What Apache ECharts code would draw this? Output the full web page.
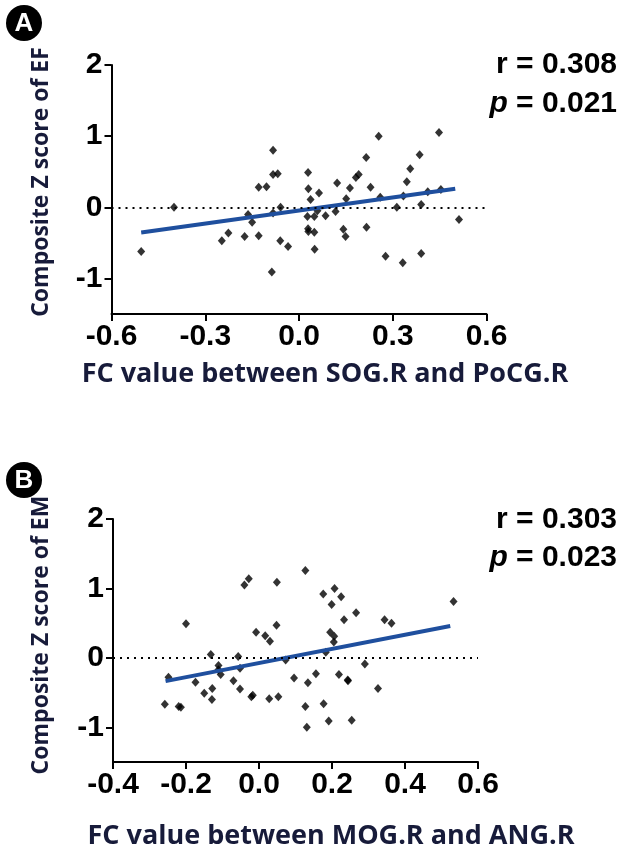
<!DOCTYPE html>
<html>
<head>
<meta charset="utf-8">
<script src="https://cdn.jsdelivr.net/npm/echarts@6/dist/echarts.min.js"></script>
<style>html,body{margin:0;padding:0;background:#fff;}#c{width:624px;height:863px;}</style>
</head>
<body>
<div id="c"></div>
<script>
// Panel A data: FC value (SOG.R–PoCG.R) vs composite Z score of EF
var pointsA = [
  [-0.505,-0.62],[-0.40,0.0],[-0.247,-0.47],[-0.226,-0.36],[-0.174,-0.41],[-0.163,-0.10],
  [-0.150,-0.21],[-0.129,0.28],[-0.104,0.29],[-0.129,-0.40],[-0.083,0.80],[-0.083,0.46],
  [-0.068,0.47],[-0.083,-0.08],[-0.059,0.0],[-0.060,-0.47],[-0.035,-0.55],[-0.087,-0.91],
  [0.029,0.49],[0.030,0.26],[0.037,0.11],[0.064,0.20],[0.027,-0.13],[0.049,-0.13],
  [0.059,-0.05],[0.029,-0.30],[0.030,-0.34],[0.049,-0.35],[0.050,-0.59],[0.085,-0.12],
  [0.117,-0.06],[0.122,0.34],[0.151,0.12],[0.163,0.27],[0.142,-0.31],[0.149,-0.41],
  [0.182,0.42],[0.191,0.46],[0.215,0.70],[0.229,0.28],[0.255,1.00],[0.260,0.14],
  [0.216,-0.28],[0.277,-0.69],[0.313,0.0],[0.332,-0.78],[0.334,0.16],[0.345,0.36],
  [0.356,0.54],[0.386,0.74],[0.391,0.04],[0.391,-0.65],[0.412,0.22],[0.448,1.05],
  [0.454,0.25],[0.512,-0.17]
];
var fitA = [[-0.505,-0.353],[0.50,0.26]];
var statsA = {r: '0.308', p: '0.021'};
var xTicksA = [-0.6,-0.3,0.0,0.3,0.6];

// Panel B data: FC value (MOG.R–ANG.R) vs composite Z score of EM
var pointsB = [
  [-0.258,-0.67],[-0.248,-0.28],[-0.220,-0.70],[-0.214,-0.71],[-0.200,0.49],[-0.174,-0.35],
  [-0.150,-0.51],[-0.128,-0.44],[-0.129,-0.60],[-0.132,0.05],[-0.111,-0.11],[-0.111,-0.17],
  [-0.105,-0.24],[-0.070,-0.33],[-0.057,0.02],[-0.052,-0.15],[-0.052,-0.45],[-0.021,-0.56],
  [-0.017,-0.54],[-0.040,1.05],[-0.028,1.14],[-0.008,0.37],[0.017,0.32],[0.030,0.24],
  [0.048,0.47],[0.049,1.09],[0.028,-0.59],[0.053,-0.56],[0.073,-0.03],[0.096,-0.29],
  [0.127,1.26],[0.127,-0.70],[0.131,-1.00],[0.134,-0.36],[0.156,-0.23],[0.176,0.92],
  [0.177,-0.66],[0.183,0.08],[0.191,-0.91],[0.195,0.37],[0.199,0.77],[0.205,0.23],
  [0.206,0.31],[0.207,1.00],[0.225,0.88],[0.233,0.55],[0.219,-0.24],[0.243,-0.32],
  [0.244,-0.33],[0.254,-0.90],[0.266,0.65],[0.290,-0.09],[0.326,-0.44],[0.344,0.55],
  [0.363,0.50],[0.533,0.81]
];
var fitB = [[-0.256,-0.335],[0.524,0.46]];
var statsB = {r: '0.303', p: '0.023'};
var xTicksB = [-0.4,-0.2,0.0,0.2,0.4,0.6];

var yTicks = [-1,0,1,2];

var tickFont = {fontFamily:'Liberation Sans', fontWeight:'bold', fontSize:30, color:'#000'};
var titleColor = '#171b3a';

function xAxis(idx, min, max, ticks){
  return {
    type:'value', gridIndex:idx, min:min, max:max,
    axisLine:{show:true, onZero:false, lineStyle:{color:'#000', width:2}},
    axisTick:{show:true, length:7, lineStyle:{color:'#000', width:2}, customValues:ticks},
    axisLabel:Object.assign({margin:8, customValues:ticks, formatter:function(v){return v.toFixed(1);}}, tickFont),
    splitLine:{show:false}
  };
}
function yAxis(idx){
  return {
    type:'value', gridIndex:idx, min:-1.5, max:2,
    axisLine:{show:true, onZero:false, lineStyle:{color:'#000', width:2}},
    axisTick:{show:true, length:7, lineStyle:{color:'#000', width:2}, customValues:yTicks},
    axisLabel:Object.assign({margin:9, customValues:yTicks, formatter:function(v){return String(v);}}, tickFont),
    splitLine:{show:false}
  };
}
function zeroLine(){
  return {
    silent:true, symbol:['none','none'], label:{show:false},
    lineStyle:{type:[2,5], color:'#000', width:2},
    data:[{yAxis:0}]
  };
}
function pText(x, y, val){
  return {type:'text', x:x, y:y, style:{
    rich:{i:{fontStyle:'italic', fontWeight:'bold', fontSize:30, fontFamily:'Liberation Sans', fill:'#000'},
          n:{fontWeight:'bold', fontSize:30, fontFamily:'Liberation Sans', fill:'#000'}},
    text:'{i|p}{n| = ' + val + '}', align:'right', verticalAlign:'middle'}};
}

var chart = echarts.init(document.getElementById('c'), null, {renderer:'canvas'});
chart.setOption({
  animation:false,
  backgroundColor:'#fff',
  grid:[
    {left:111.5, top:65, width:375, height:249, containLabel:false},
    {left:113, top:519, width:365, height:243, containLabel:false}
  ],
  xAxis:[xAxis(0,-0.6,0.6,xTicksA), xAxis(1,-0.4,0.6,xTicksB)],
  yAxis:[yAxis(0), yAxis(1)],
  series:[
    {type:'scatter', xAxisIndex:0, yAxisIndex:0, data:pointsA, symbol:'diamond', symbolSize:[8,9],
     itemStyle:{color:'#000'}, markLine:zeroLine(), z:3},
    {type:'line', xAxisIndex:0, yAxisIndex:0, data:fitA, symbol:'none', lineStyle:{color:'#1f4f9e', width:4}, z:4},
    {type:'scatter', xAxisIndex:1, yAxisIndex:1, data:pointsB, symbol:'diamond', symbolSize:[8,9],
     itemStyle:{color:'#000'}, markLine:zeroLine(), z:3},
    {type:'line', xAxisIndex:1, yAxisIndex:1, data:fitB, symbol:'none', lineStyle:{color:'#1f4f9e', width:4}, z:4}
  ],
  graphic:[
    {type:'circle', shape:{cx:24, cy:23, r:18}, style:{fill:'#000'}},
    {type:'text', x:24, y:24, style:{text:'A', fill:'#fff', font:'bold 26px "Liberation Sans"', align:'center', verticalAlign:'middle'}},
    {type:'circle', shape:{cx:24, cy:480, r:18}, style:{fill:'#000'}},
    {type:'text', x:24, y:481, style:{text:'B', fill:'#fff', font:'bold 26px "Liberation Sans"', align:'center', verticalAlign:'middle'}},

    {type:'text', x:41, y:182, rotation:Math.PI/2, style:{text:'Composite Z score of EF', fill:titleColor, font:'bold 23px "Open Sans"', align:'center', verticalAlign:'middle'}},
    {type:'text', x:41, y:635, rotation:Math.PI/2, style:{text:'Composite Z score of EM', fill:titleColor, font:'bold 23px "Open Sans"', align:'center', verticalAlign:'middle'}},
    {type:'text', x:325, y:374, style:{text:'FC value between SOG.R and PoCG.R', fill:titleColor, font:'bold 27px "Open Sans"', align:'center', verticalAlign:'middle'}},
    {type:'text', x:331, y:836, style:{text:'FC value between MOG.R and ANG.R', fill:titleColor, font:'bold 27px "Open Sans"', align:'center', verticalAlign:'middle'}},

    {type:'text', x:617, y:65, style:{text:'r = ' + statsA.r, fill:'#000', font:'bold 30px "Liberation Sans"', align:'right', verticalAlign:'middle'}},
    pText(617, 104, statsA.p),
    {type:'text', x:617, y:520, style:{text:'r = ' + statsB.r, fill:'#000', font:'bold 30px "Liberation Sans"', align:'right', verticalAlign:'middle'}},
    pText(617, 558, statsB.p)
  ]
});
</script>
</body>
</html>
